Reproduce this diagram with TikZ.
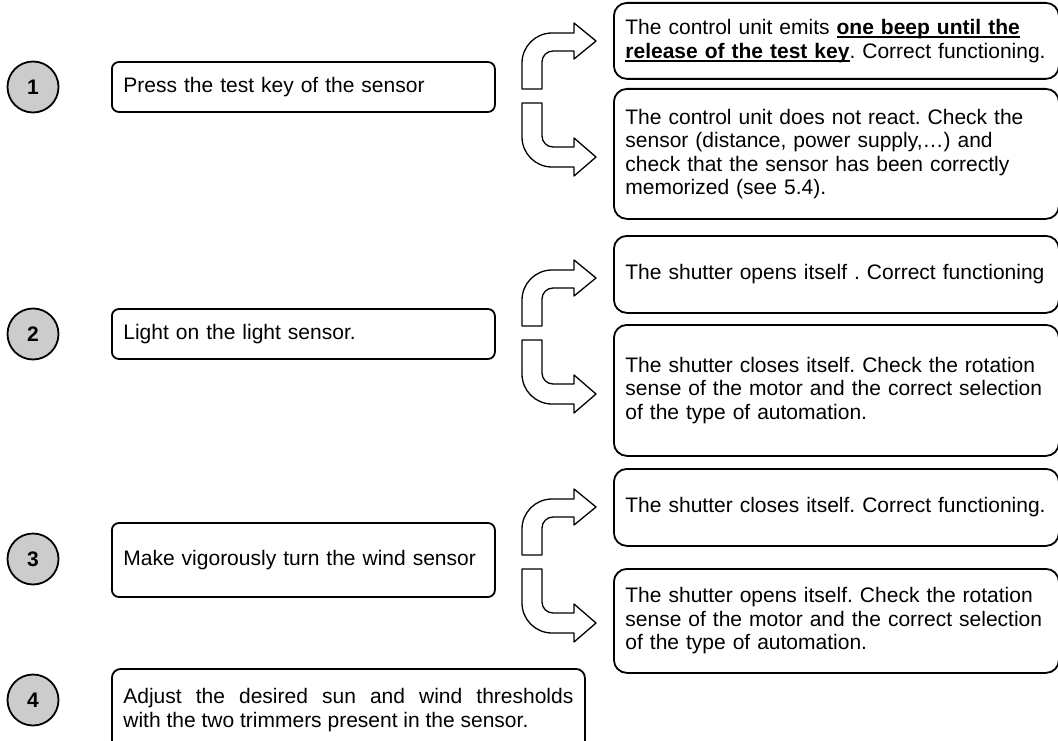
\documentclass[tikz,border=0pt]{standalone}
\usepackage{fontspec}
\setmainfont{Liberation Sans}
\usepackage{xcolor}
\definecolor{numgray}{gray}{0.8}
\frenchspacing
\hyphenpenalty=10000
\newsavebox\keybox
\newcommand\keytext[1]{\leavevmode\sbox\keybox{\textbf{#1}}\rlap{\rule[-3.6pt]{\wd\keybox}{1.7pt}}\usebox\keybox}

\begin{document}
\begin{tikzpicture}[x=1pt, y=1pt, node distance=78, line join=round,
		every node/.style={font=\fontsize{21}{23.5}\selectfont},
		num/.style={circle, draw, line width=1.8, fill=numgray, minimum size=51, inner sep=0,
			font=\fontsize{21}{23.5}\selectfont\bfseries},
		task/.style={draw, rounded corners=7, line width=1.8, text width=360, inner xsep=11.5,
			minimum height=50, align=left},
		result/.style={draw, rounded corners=13, line width=1.8, text width=422, inner xsep=11.5,
			align=left, anchor=north west},
		fork/.pic={
			\draw[line width=1.3] (-36,7) -- (-36,33) arc[start angle=180, end angle=90, radius=30]
				-- (16,63) -- (16,73) -- (38,55) -- (16,37) -- (16,45) -- (-5,45)
				arc[start angle=90, end angle=180, radius=11] -- (-16,7) -- cycle;
			\draw[line width=1.3] (-36,-7) -- (-16,-7) -- (-16,-40)
				arc[start angle=180, end angle=270, radius=11] -- (16,-51) -- (16,-42)
				-- (38,-61) -- (16,-80) -- (16,-71) -- (-6,-71)
				arc[start angle=270, end angle=180, radius=30] -- cycle;
		}]
			\useasboundingbox (0,0) rectangle (1058,-741);

			\node[num] (1) at (33,-87) {1};
			\node[num] (2)[below of = 1, yshift=-169] {2};
			\node[num] (3)[below of = 2, yshift=-147] {3};
			\node[num] (4)[below of = 3, yshift=-63] {4};

			\node[task] (5)[right of = 1, anchor=west] {Press the test key of the sensor};
			\node[task] (6)[right of = 2, anchor=west] {Light on the light sensor.};
			\node[task, minimum height=74] (7)[right of = 3, anchor=west, yshift=-1] {Make vigorously turn the wind sensor};
			\node[task, text width=450, minimum height=82, align=justify, rounded corners=9]
				(8)[right of = 4, anchor=north west, yshift=32]
				{Adjust the desired sun and wind thresholds\linebreak with the two trimmers present in the sensor.};

			% outcomes of each check
			\node[result, minimum height=76] (9) at (613,-2)
				{The control unit emits \keytext{one beep until the}\\
				\keytext{release of the test key}. Correct functioning.};
			\node[result, minimum height=130] (10) at (613,-88)
				{The control unit does not react. Check the\\
				sensor (distance, power supply,…) and\\
				check that the sensor has been correctly\\
				memorized (see 5.4).};
			\node[result, minimum height=77] (11) at (613,-235)
				{The shutter opens itself . Correct functioning};
			\node[result, minimum height=131] (12) at (613,-324)
				{The shutter closes itself. Check the rotation\\
				sense of the motor and the correct selection\\
				of the type of automation.};
			\node[result, minimum height=77] (13) at (613,-468)
				{The shutter closes itself. Correct functioning.};
			\node[result, minimum height=104] (14) at (613,-568)
				{The shutter opens itself. Check the rotation\\
				sense of the motor and the correct selection\\
				of the type of automation.};

			\coordinate (a1) at (558,-96);
			\coordinate (a2) at (558,-333);
			\coordinate (a3) at (558,-562);
			\pic at (a1) {fork};
			\pic at (a2) {fork};
			\pic at (a3) {fork};
		\end{tikzpicture}
\end{document}
